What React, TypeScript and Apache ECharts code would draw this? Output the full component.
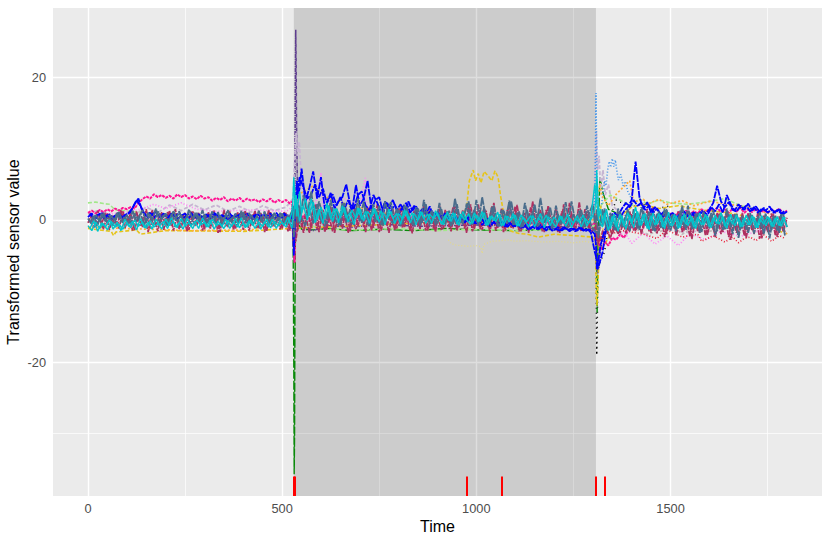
import React, { useEffect, useRef } from "react";
import * as echarts from "echarts";

const xLabels = [0, 500, 1000, 1500];
const yLabels = [-20, 0, 20];
const xMinor = [250, 750, 1250, 1750];
const yMinor = [-30, -10, 10];
const shadedSpan = [530, 1308];
const rugTimes = [530, 533, 975, 1066, 1308, 1330];

const time = [
  0,10,20,30,40,50,60,70,80,90,
  100,110,120,130,140,150,160,170,180,190,
  200,210,220,230,240,250,260,270,280,290,
  300,310,320,330,340,350,360,370,380,390,
  400,410,420,430,440,450,460,470,480,490,
  500,510,520,525,528,530,532,534,536,538,
  540,545,550,560,570,580,590,600,610,620,
  630,640,650,660,670,680,690,700,710,720,
  730,740,750,760,770,780,790,800,810,820,
  830,840,850,860,870,880,890,900,910,920,
  930,940,950,960,970,980,990,1000,1010,1020,
  1030,1040,1050,1060,1070,1080,1090,1100,1110,1120,
  1130,1140,1150,1160,1170,1180,1190,1200,1210,1220,
  1230,1240,1250,1260,1270,1280,1290,1300,1305,1308,
  1310,1312,1314,1316,1320,1325,1330,1340,1350,1360,
  1370,1380,1390,1400,1410,1420,1430,1440,1450,1460,
  1470,1480,1490,1500,1510,1520,1530,1540,1550,1560,
  1570,1580,1590,1600,1610,1620,1630,1640,1650,1660,
  1670,1680,1690,1700,1710,1720,1730,1740,1750,1760,
  1770,1780,1790,1800,
];

const timeOffset = [
  5,15,25,35,45,55,65,75,85,95,
  105,115,125,135,145,155,165,175,185,195,
  205,215,225,235,245,255,265,275,285,295,
  305,315,325,335,345,355,365,375,385,395,
  405,415,425,435,445,455,465,475,485,495,
  505,515,525,535,545,555,565,575,585,595,
  605,615,625,635,645,655,665,675,685,695,
  705,715,725,735,745,755,765,775,785,795,
  805,815,825,835,845,855,865,875,885,895,
  905,915,925,935,945,955,965,975,985,995,
  1005,1015,1025,1035,1045,1055,1065,1075,1085,1095,
  1105,1115,1125,1135,1145,1155,1165,1175,1185,1195,
  1205,1215,1225,1235,1245,1255,1265,1275,1285,1295,
  1305,1315,1325,1335,1345,1355,1365,1375,1385,1395,
  1405,1415,1425,1435,1445,1455,1465,1475,1485,1495,
  1505,1515,1525,1535,1545,1555,1565,1575,1585,1595,
  1605,1615,1625,1635,1645,1655,1665,1675,1685,1695,
  1705,1715,1725,1735,1745,1755,1765,1775,1785,1795,
];

const hotpink = [
  1.0,1.3,0.9,1.4,1.1,1.5,1.2,1.6,1.3,1.7,
  1.5,1.8,1.6,2.4,2.9,3.3,3.0,3.6,3.2,3.5,
  3.1,3.4,3.0,3.6,3.2,3.5,3.0,3.3,2.9,3.4,
  3.0,3.2,2.7,3.1,2.8,3.2,2.6,3.0,2.7,3.1,
  2.6,3.0,2.7,2.9,2.5,2.9,2.6,3.0,2.4,2.8,
  2.5,2.8,2.3,2.6,1.0,-3.0,-6.0,-1.0,1.5,1.0,
  0.6,1.0,0.3,0.8,-0.2,0.5,0.9,0.0,0.6,-0.3,
  0.8,0.2,0.7,-0.1,0.5,0.9,0.1,0.6,-0.2,0.4,
  0.7,0.0,0.5,-0.3,0.6,0.1,0.8,-0.2,0.4,0.0,
  0.5,-0.3,0.3,0.6,-0.2,0.4,-0.4,0.3,0.0,0.5,
  -0.3,0.2,-0.5,0.3,-0.2,0.4,-0.4,0.1,-0.6,0.2,
  -0.3,0.1,-0.6,0.0,-0.4,0.2,-0.7,-0.1,-0.5,0.1,
  -0.6,-0.2,-0.8,0.0,-0.5,-0.1,-0.7,-0.3,-0.9,-0.2,
  -0.6,-0.2,-0.9,-0.4,-0.8,-0.3,-1.0,-0.5,-0.5,-0.4,
  -0.5,-1.5,-2.5,-3.5,-3.9,-4.2,-3.0,-3.6,-2.5,-2.8,
  -2.0,-2.5,-1.5,-1.0,-1.2,-0.4,-0.9,0.0,-0.5,0.3,
  0.1,0.7,0.3,0.9,0.4,1.1,0.6,1.3,0.8,1.2,
  0.9,1.5,1.0,1.6,1.2,1.7,1.1,1.5,1.0,1.6,
  1.2,1.7,1.0,1.5,1.1,1.6,0.9,1.4,1.0,1.5,
  1.1,1.6,0.9,1.3,
];

const maroon = [
  -0.4,0.8,-1.0,0.4,-1.3,0.9,-0.8,0.5,-1.2,1.2,
  -0.7,1.0,-1.4,0.6,-1.0,1.5,-1.2,0.7,-1.6,1.1,
  -0.9,1.3,-1.5,0.5,-1.1,1.0,-1.4,1.2,-0.8,0.6,
  -1.3,1.1,-0.9,0.7,-1.7,1.4,-1.0,0.5,-1.2,0.9,
  -1.4,1.0,-0.7,1.3,-1.2,0.6,-1.6,1.1,-0.9,0.7,
  -1.2,1.0,-1.5,-0.5,-2.0,-4.0,-1.5,2.0,-1.0,1.5,
  -1.5,1.8,-1.0,0.8,-1.8,1.5,-1.3,1.2,-1.7,0.7,
  -1.6,1.4,-0.9,1.1,-1.8,0.6,-1.3,1.4,-1.0,1.8,
  -1.5,1.1,-1.7,1.5,-0.8,0.9,-1.4,1.6,-1.1,0.7,
  -1.6,1.3,-0.9,1.0,-1.5,1.6,-1.2,0.6,-1.4,1.4,
  -1.0,1.8,-1.5,0.8,-1.2,2.0,-1.6,0.9,-1.3,1.7,
  -1.0,1.9,-1.5,0.8,-1.7,1.4,-1.1,1.9,-1.6,0.7,
  -1.2,1.8,-0.9,1.0,-1.6,1.4,-1.3,0.6,-1.7,1.2,
  -1.3,2.4,-1.0,0.8,-1.6,1.5,-1.2,2.0,0.5,-1.0,
  -3.0,-1.5,-3.5,-2.0,-3.0,-1.5,-2.2,-0.8,-2.0,-0.5,
  -1.8,-0.3,-1.5,0.8,-1.6,0.5,-1.2,1.5,-1.8,-0.2,
  -1.5,0.8,-2.0,0.5,-1.2,1.2,-1.7,0.4,-2.3,0.9,
  -1.6,0.6,-2.2,0.3,-1.4,1.0,-2.0,0.5,-2.4,0.8,
  -1.8,0.4,-2.2,1.0,-1.5,0.2,-2.6,0.6,-1.7,0.9,
  -2.2,0.5,-1.6,0.3,
];

const maroon2 = [
  0.9,-1.1,1.3,-0.6,1.0,-1.4,0.6,-0.9,1.4,-1.2,
  0.5,-1.5,1.2,-0.8,0.8,-1.7,1.4,-1.0,0.9,-1.4,
  1.1,-0.8,1.5,-1.3,0.7,-1.6,1.2,-0.9,1.0,-1.5,
  0.8,-1.2,1.3,-1.8,0.6,-0.9,1.2,-1.4,1.1,-0.8,
  1.3,-1.5,0.8,-1.1,1.0,-1.7,1.4,-0.9,0.7,-1.3,
  1.1,-1.6,0.6,-3.0,1.0,-1.8,1.5,-1.2,2.2,-1.7,
  1.4,-1.4,1.9,-1.8,0.9,-1.2,1.6,-1.6,2.0,-0.9,
  1.2,-1.7,1.7,-1.1,2.2,-1.5,0.8,-1.8,1.5,-1.2,
  1.8,-1.0,1.2,-1.9,1.6,-1.3,2.0,-1.5,1.0,-1.7,
  2.0,-1.2,1.1,-1.6,1.9,-1.0,1.4,-1.8,2.2,-1.3,
  2.2,-1.4,1.3,-1.8,2.4,-1.1,1.6,-1.5,2.5,-1.2,
  2.1,-1.6,1.0,-1.8,2.6,-1.2,1.4,-1.7,2.0,-1.0,
  1.6,-1.8,2.2,-1.1,0.9,-1.6,2.5,-1.3,1.2,-1.8,
  -1.0,-2.5,-2.8,-1.2,-2.6,-0.6,-2.0,0.3,-1.8,1.2,
  -1.5,1.0,-2.0,0.6,-1.6,1.8,-1.9,0.9,-2.4,0.4,
  1.0,-2.2,0.6,-1.5,1.3,-2.7,0.5,-1.8,1.0,-2.1,
  0.5,-2.4,0.9,-1.7,1.1,-2.8,0.4,-1.9,1.0,-2.5,
  0.7,-2.0,1.1,-2.6,0.4,-1.7,0.9,-2.4,0.5,-1.9,
];

const blue = [
  0.4,0.9,0.2,0.8,0.3,0.7,0.1,0.6,0.9,0.2,
  0.7,1.1,2.2,3.0,1.2,0.6,1.0,0.3,0.9,0.4,
  0.8,0.2,0.7,0.1,0.6,0.9,0.3,0.8,0.2,0.6,
  0.1,0.7,0.3,0.9,0.2,0.6,0.0,0.5,0.8,0.2,
  0.6,0.9,0.3,0.7,0.1,0.8,0.4,0.9,0.2,0.7,
  0.3,0.8,0.2,0.5,-1.0,-5.0,-2.0,1.5,3.5,5.5,
  3.0,4.5,7.2,2.5,4.5,6.8,3.0,6.0,1.5,3.0,
  3.6,2.0,3.2,1.5,2.8,1.2,4.9,2.0,3.0,5.5,
  1.5,2.8,3.2,1.0,2.5,1.2,2.2,0.8,1.8,2.4,
  1.0,2.0,0.6,1.5,0.8,1.9,0.4,1.2,0.2,1.0,
  0.2,0.9,-0.2,0.6,-0.4,0.5,0.0,-0.5,0.4,-0.3,
  0.2,-0.6,0.0,-0.8,-0.2,-1.0,-0.4,-0.9,-0.2,-1.1,
  -0.5,-1.2,-0.7,-1.3,-0.9,-1.5,-0.8,-1.4,-1.0,-1.5,
  -1.1,-1.6,-1.2,-1.5,-1.1,-1.6,-1.3,-1.7,-2.0,-3.5,
  -6.8,-7.0,-6.0,-5.0,-3.5,-2.5,-1.5,-0.5,0.0,0.5,
  0.3,1.2,1.8,2.8,8.2,3.2,1.5,2.5,1.0,1.8,
  1.2,0.4,1.0,0.2,0.8,-0.1,0.6,0.9,0.2,1.1,
  0.6,1.3,0.8,1.5,2.4,4.8,2.6,1.8,2.5,1.4,
  1.2,2.0,1.4,2.3,1.3,1.9,1.1,1.7,1.0,1.5,
  1.0,1.5,0.8,1.2,
];

const blue2 = [
  0.9,0.2,0.7,1.0,0.1,0.8,0.3,0.9,0.2,0.7,
  1.0,1.7,2.8,2.0,0.9,0.3,0.8,1.1,0.4,0.9,
  0.3,0.9,0.5,1.0,0.2,0.7,1.0,0.3,0.8,0.4,
  0.8,0.2,1.0,0.4,0.7,0.2,0.9,0.3,0.6,0.9,
  0.3,0.8,0.1,0.9,0.4,0.7,0.2,0.6,1.0,0.3,
  0.9,0.4,0.6,2.5,6.0,4.5,3.0,3.6,5.0,3.2,
  4.4,2.4,3.8,1.6,2.6,3.2,5.0,2.2,1.6,3.5,
  4.0,2.0,1.4,3.5,2.4,1.0,2.6,1.6,2.8,1.4,
  2.2,1.0,2.6,1.3,1.9,0.6,1.6,0.9,1.3,0.5,
  0.9,0.2,0.7,-0.1,0.6,-0.2,0.5,-0.3,0.4,-0.5,
  0.1,-0.7,-0.1,-0.9,-0.3,-0.8,-0.1,-1.0,-0.3,-0.9,
  -0.6,-1.1,-0.8,-1.4,-1.0,-1.3,-0.7,-1.2,-0.9,-1.5,
  -1.3,-1.5,-1.0,-1.4,-1.2,-1.6,-1.1,-1.5,-1.2,-1.8,
  -4.5,-6.5,-4.5,-1.0,0.5,1.0,0.6,1.6,2.4,1.8,
  2.8,2.0,2.4,1.4,2.1,1.0,1.6,0.7,1.3,0.5,
  1.0,0.3,0.9,1.2,0.5,1.0,0.3,0.8,1.2,0.6,
  1.8,1.2,2.2,1.0,3.5,2.2,1.3,2.2,1.5,2.0,
  1.2,1.8,1.0,1.6,1.3,1.9,1.0,1.4,0.9,1.3,
];

const steel = [
  0.2,-0.6,0.8,-0.3,1.0,-0.5,0.6,-0.2,1.1,-0.4,
  0.7,-0.5,0.9,0.0,1.4,-0.3,0.8,-0.6,1.2,0.1,
  0.9,-0.4,1.3,-0.2,0.7,-0.6,1.5,0.0,1.0,-0.5,
  0.8,-0.2,1.2,-0.6,0.6,-0.1,1.4,-0.4,0.9,-0.3,
  1.1,-0.5,0.7,-0.2,1.3,-0.4,0.8,-0.6,1.0,-0.1,
  0.9,-0.4,0.6,1.2,2.0,-2.5,-1.0,3.0,0.5,2.5,
  -0.4,2.0,0.3,-0.8,1.8,-0.5,2.2,0.0,-0.9,2.0,
  -0.3,1.6,-0.8,2.4,0.2,-0.6,1.7,-0.2,2.6,-0.7,
  1.5,-0.3,2.0,-0.8,1.2,2.5,-0.5,1.4,-0.6,1.9,
  0.0,-0.8,1.6,-0.4,2.2,-0.9,1.0,-0.5,1.5,-0.7,
  1.3,-0.6,2.2,-0.4,1.0,2.6,-0.7,2.8,-0.3,1.6,
  -0.8,1.8,0.0,-0.9,1.4,-0.5,2.6,-0.7,1.2,-1.0,
  1.5,-0.6,2.2,-0.9,1.0,-0.4,1.8,-1.0,0.8,-0.6,
  2.5,-0.9,0.8,-0.5,1.4,-1.0,0.9,2.2,-0.5,0.5,
  1.5,-1.0,-2.5,-1.8,0.5,-0.8,1.6,-1.2,0.8,-1.5,
  1.2,-1.0,1.5,-0.6,1.0,-1.4,1.3,-1.0,0.9,-1.6,
  1.2,-1.2,1.5,-1.5,0.8,-1.0,2.0,-1.4,1.0,-1.2,
  1.0,-1.7,0.8,-1.2,1.4,-1.6,1.0,-1.3,0.8,-2.0,
  0.9,-1.4,-0.2,-1.8,0.7,-1.0,1.1,-2.0,0.5,-1.4,
  0.6,-1.8,0.8,-1.0,
];

const steel2 = [
  -0.4,0.6,-0.7,0.9,-0.2,0.7,-0.8,1.1,-0.3,0.5,
  -0.6,1.3,-0.2,0.9,-0.7,1.0,-0.1,1.6,-0.5,0.7,
  -0.8,0.8,-0.1,1.2,-0.5,0.6,-0.7,1.0,-0.2,1.4,
  -0.6,0.7,-0.3,1.1,-0.8,0.9,-0.2,0.6,-0.7,1.3,
  -0.3,1.0,-0.6,0.5,-0.1,1.2,-0.7,0.8,-0.4,1.0,
  -0.6,0.7,-0.2,2.4,-0.5,3.5,0.8,4.0,-0.3,2.6,
  0.5,-0.6,2.8,0.2,-0.8,2.4,-0.4,1.5,-0.7,3.0,
  -0.4,1.8,-0.9,2.2,0.0,-0.7,2.6,0.3,-0.5,1.6,
  -0.9,2.1,0.2,-0.6,1.8,-0.8,2.8,-0.2,1.3,-0.7,
  2.4,-0.4,1.2,-0.9,3.0,0.1,-0.6,2.3,-0.3,1.5,
  -0.8,3.2,0.2,-0.5,2.0,-0.9,1.4,-0.2,2.7,-0.7,
  1.0,-1.1,2.4,-0.3,1.2,-0.9,3.1,-0.4,1.0,-1.2,
  2.0,-0.6,1.0,-1.1,2.6,-0.3,1.3,-1.0,2.0,-0.8,
  -1.5,-2.0,1.5,-1.5,1.0,-1.4,1.6,-1.0,0.7,-1.6,
  1.5,-1.2,1.8,-0.8,1.2,-1.5,0.9,-1.1,1.6,-1.3,
  0.8,-1.6,1.3,-1.0,2.0,-1.3,0.9,-1.8,1.2,-0.9,
  1.0,-2.2,0.7,-1.4,1.6,-1.1,0.8,-2.5,0.6,-1.3,
  1.0,-1.9,0.5,-1.2,0.9,-2.6,0.6,-1.5,0.8,-2.3,
];

const teal = [
  -0.8,-1.5,-0.3,-1.2,-0.5,-1.4,-0.2,-1.0,-0.6,-1.3,
  -0.4,-1.1,0.0,-0.9,-0.3,-1.2,-0.1,-1.0,-0.5,-1.3,
  0.1,-0.8,-0.2,-1.1,0.2,-0.9,-0.4,-1.2,0.0,-0.7,
  -0.3,-1.0,0.1,-0.8,-0.5,-1.2,-0.1,-0.9,0.2,-1.1,
  -0.4,-1.0,0.0,-1.2,-0.3,-0.9,0.1,-1.1,-0.2,-0.8,
  -0.4,-1.0,0.2,1.0,3.0,6.0,4.0,1.5,3.5,0.5,
  2.0,4.0,1.0,3.0,0.6,2.5,0.0,1.8,0.2,2.0,
  -0.2,1.6,0.3,1.8,-0.3,1.4,0.2,1.6,-0.2,1.2,
  0.4,1.5,-0.3,1.0,0.2,1.2,-0.5,0.9,0.1,1.3,
  -0.4,0.9,0.0,1.1,-0.5,0.8,0.2,1.0,-0.6,0.7,
  -0.1,1.0,-0.6,0.8,0.0,0.9,-0.5,0.7,-0.2,1.0,
  -0.7,0.6,-0.2,0.8,-0.8,0.5,0.0,0.7,-0.9,0.4,
  -0.2,0.6,-1.0,0.3,-0.4,0.7,-0.8,0.4,-0.3,0.5,
  -0.9,0.3,-0.5,0.6,-1.0,0.2,-0.4,0.6,1.5,3.0,
  7.0,4.5,2.0,0.5,1.5,-0.5,1.0,-1.5,0.5,-1.0,
  0.8,-0.9,1.0,-0.5,1.8,-0.8,0.8,-1.2,0.6,-0.7,
  0.9,-1.0,0.4,-0.8,0.8,-1.2,0.5,-0.6,0.7,-1.0,
  0.4,-0.7,0.8,-1.0,0.3,-0.5,1.0,-0.9,0.4,-0.6,
  0.7,-1.0,0.3,-0.7,0.6,-1.1,0.2,-0.6,0.5,-0.9,
  0.3,-0.8,0.4,-1.0,
];

const teal2 = [
  -1.2,-0.1,-1.6,-0.4,-1.0,0.0,-1.3,-0.3,-1.5,0.1,
  -0.9,-0.2,-1.4,0.2,-1.1,-0.3,-1.3,0.1,-0.8,-0.2,
  -1.2,0.3,-1.0,-0.4,-1.3,0.2,-0.9,-0.2,-1.2,0.3,
  -1.0,0.0,-1.3,-0.2,-0.9,0.1,-1.2,-0.3,-1.0,0.3,
  -1.1,-0.1,-0.8,0.2,-1.3,-0.2,-1.0,0.1,-1.2,0.0,
  -0.8,0.4,-1.2,3.5,-0.2,2.0,0.0,3.0,-0.4,1.5,
  -0.5,2.4,0.1,1.6,-0.4,2.0,0.3,1.0,-0.6,1.7,
  0.1,1.2,-0.5,1.7,0.0,1.3,-0.7,1.5,0.2,0.9,
  -0.6,1.4,0.0,1.0,-0.7,1.2,0.2,0.8,-0.5,1.3,
  0.1,-0.7,1.1,-0.2,0.9,-0.8,1.2,0.0,-0.6,1.0,
  -0.3,1.2,-0.8,0.5,-0.1,1.1,-0.9,0.6,-0.3,0.9,
  -0.9,0.7,-0.1,-1.0,0.6,-0.4,0.9,-1.1,0.4,-0.2,
  -1.0,0.6,-0.5,0.8,-1.1,0.2,-0.3,0.7,-0.9,0.4,
  5.0,0.0,-1.0,1.5,-1.2,0.8,-1.6,0.6,-1.3,0.7,
  -1.1,1.2,-0.8,0.9,-1.4,1.0,-0.6,0.7,-1.2,1.1,
  -0.9,0.6,-1.1,0.9,-0.8,0.4,-1.2,1.0,-0.7,0.6,
  -1.1,0.7,-0.6,0.5,-1.2,0.8,-0.8,0.3,-1.0,0.7,
  -0.7,0.4,-1.1,0.6,-0.8,0.3,-1.0,0.5,-0.9,0.4,
];

const purpleTime = [520,528,531,533,534,535,536,537,539,542,548,560,580,620,680,760,860,1000,1150,1290,1305,1309,1311,1313,1316,1320,1325,1335,1350,1380];
const purple = [-0.5,-1,-6,8,19,26.7,22,14,6,2,0.5,-1.2,-1.5,-0.8,-1,-0.6,-0.9,-0.7,-1,-0.9,-1.5,-3,-6.5,-7.5,-6,-4,-2.5,-1.5,-1,-0.5];

const greenTime = [520,528,530,531,532,533,534,536,540,550,580,620,680,760,840,920,1000,1100,1200,1300,1308,1310,1311,1312,1314,1318,1325,1340,1360];
const green = [0.5,-0.5,-20,-35.7,-30,-12,-3,0,-0.5,-1.3,-1.4,-1.2,-1.5,-1.3,-1.5,-1.2,-1.4,-1.5,-1.3,-1.2,0,-5,-13,-9,-2,6,4,1.5,1];

const blackTime = [1300,1306,1308,1309,1310,1311,1312,1313,1315,1318,1322,1330,1345,1360,1375,1395,1430,1460,1500];
const black = [-0.5,-1,-4,-12,-19,-16,-12,-8,-6.5,-6,-5.5,-4.5,0.5,2.8,2.4,1.8,2.2,1.5,2.0];

const lavenderTime = [0,30,60,90,120,150,180,210,240,270,300,330,360,390,420,450,480,510,528,532,536,540,544,550,560,580,620,700,800,900,1000,1100,1200,1300,1307,1309,1312,1316,1320,1326,1332,1340,1350,1370,1400,1450,1500,1550,1600];
const lavender = [0.8,1.4,0.5,1.2,0.7,1.8,1.0,2.1,1.3,2.2,1.4,2.1,1.2,1.9,1.1,2.0,1.3,1.8,3,8,12.2,9,11,5,2,1,0.5,0.2,0.5,0,0.3,-0.2,0,0.3,8,12.5,7,9,4,7,3.5,5,2,1,0,-0.5,-1.4,-1.8,-1];

const yellowTime = [0,60,66,72,125,135,200,400,520,960,975,982,992,998,1005,1012,1020,1030,1040,1048,1056,1062,1070,1078,1090,1110,1130,1160,1200,1250,1300,1307,1309,1311,1313,1316,1320,1330,1345,1370,1400,1430,1470,1520,1580,1650,1720,1790];
const yellow = [-1.2,-1.6,-2.2,-1.7,-1.4,-2,-1.5,-1.6,-1.2,-0.2,1.8,5.5,7,5.5,6.5,5.2,6.8,6.2,5.5,6.9,6,3.5,1,-0.8,-1.6,-1.9,-2.0,-2.4,-2.0,-2.2,-2.4,-3,-11,-12,-9,-5,2,-3.5,-2,0.5,1.8,2.2,1.6,2,1.4,1,0.2,-1.8];

const paleYellowTime = [928,935,945,960,980,1000,1012,1015,1020,1040,1065,1080,1100,1130,1170,1210,1250,1280,1300,1308];
const paleYellow = [-2.8,-3.3,-3.5,-3.6,-3.7,-3.6,-3.8,-4.7,-3.4,-3,-2.9,-2.8,-3,-2.9,-3.1,-3,-3.2,-3,-3.2,-3.1];

const skyTime = [1300,1305,1307,1308,1309,1310,1312,1316,1322,1326,1330,1334,1338,1342,1346,1350,1354,1358,1362,1366,1372,1378,1384,1390,1396,1402];
const sky = [0,3,10,17.8,13,7,3,1.5,2,3.5,5.5,4.8,7,8.2,7.4,8.6,7.5,8.4,6.8,5.6,6.4,4.8,5.4,4,3.4,2.5];

const violetTime = [0,80,130,170,200,240,280,330,420,510,560,585,600,604,620,660,700,714,718,740,800,900,1000,1100,1200,1300,1330,1360,1380,1400,1430,1460,1490,1520,1550,1590,1630,1680,1730,1790];
const violet = [0.5,1,1.4,2.2,1.6,2.4,1.5,1.2,1.4,1.2,3,2,6.6,2,2.5,3,2,5.9,2,1,0.5,0,0.2,-0.4,-0.6,-0.5,-1.5,-2.8,-1.6,-3.3,-1.8,-3.4,-2.2,-3.6,-1.9,-2.8,-1.6,-2.3,-1.5,-1.2];

const redTime = [1340,1380,1430,1465,1490,1530,1570,1580,1610,1640,1660,1675,1690,1705,1720,1740,1760,1780,1795];
const red = [-2,-1.5,-2,-2.6,-1.4,-2.4,-2,-3.0,-2.2,-3.1,-2.4,-3.2,-2.6,-2.4,-2.9,-2.1,-3.0,-2.2,-2.6];

const orangeTime = [0,100,260,420,530,540,580,620,680,800,1000,1200,1307,1312,1318,1322,1340,1360,1395,1405,1430,1440,1470,1490,1530,1560,1600,1650,1700,1760,1800];
const orange = [-1,-1.2,-1.5,-1.4,0,3.5,4.8,3,2,0.5,0,0.2,0,3,5,3.5,2,3.6,5.5,2.5,2.9,2.2,2.9,2.2,2.7,2,2.6,2.2,1.8,0.8,-2];

const limeTime = [0,20,40,55,70,150,300,540,600,700,800,900,1000,1100,1200,1300,1320,1345,1380,1400,1420,1440,1470,1500,1540,1590,1640,1680,1720];
const lime = [2.4,2.5,2.3,2.2,1.4,1,0.5,0,-1.3,-1.4,-1.2,-1.5,-1.3,-1.5,-1.4,-1.2,2,3.5,2.5,2,3,2.2,2.8,2.4,2.2,2.5,3,2,1.5];

const greyTime = [1330,1345,1360,1380,1400,1440,1480,1510,1530,1560,1600,1650,1700,1760,1800];
const grey = [-1,-2,-1,-2.5,-1,-2,-1.5,-1,-2,-1,-1.6,-0.8,-1.2,-0.8,-1.2];

const lines = [
  { name: "black", time: blackTime, values: black, color: "#000000", dash: [1, 4], width: 1.5 },
  { name: "green", time: greenTime, values: green, color: "#0a8a0a", dash: [9, 2], width: 1.4 },
  { name: "purple", time: purpleTime, values: purple, color: "#5e3c8f", dash: [4, 1, 1, 1], width: 1.5 },
  { name: "lavender", time: lavenderTime, values: lavender, color: "#c6b5d2", dash: [4, 2], width: 1.8 },
  { name: "grey", time: greyTime, values: grey, color: "#c0bcbc", dash: [3, 2], width: 1.8 },
  { name: "lime", time: limeTime, values: lime, color: "#a2e88a", dash: [4, 2], width: 1.6 },
  { name: "sky", time: skyTime, values: sky, color: "#3f93ea", dash: [1, 2], width: 1.6 },
  { name: "yellow", time: yellowTime, values: yellow, color: "#e6c41a", dash: [4, 2], width: 1.6 },
  { name: "paleYellow", time: paleYellowTime, values: paleYellow, color: "#e3d88a", dash: [1, 2], width: 1.3 },
  { name: "orange", time: orangeTime, values: orange, color: "#ffac3a", dash: [2, 2], width: 1.7 },
  { name: "violet", time: violetTime, values: violet, color: "#ff85f5", dash: [1, 2], width: 1.8 },
  { name: "red", time: redTime, values: red, color: "#e8203a", dash: [1, 2], width: 1.6 },
  { name: "hotpink", time, values: hotpink, color: "#ff1493", dash: [3, 1], width: 2 },
  { name: "maroon", time, values: maroon, color: "#b03060", dash: [5, 1], width: 1.7 },
  { name: "maroon2", time: timeOffset, values: maroon2, color: "#b03060", dash: [5, 1], width: 1.7 },
  { name: "blue", time, values: blue, color: "#0000ff", dash: [7, 1], width: 1.8 },
  { name: "blue2", time: timeOffset, values: blue2, color: "#0000ff", dash: [7, 1], width: 1.8 },
  { name: "steel", time, values: steel, color: "#4a6d8c", dash: [8, 1], width: 1.8 },
  { name: "steel2", time: timeOffset, values: steel2, color: "#4a6d8c", dash: [8, 1], width: 1.8 },
  { name: "teal", time, values: teal, color: "#00c5cd", dash: "solid", width: 1.4 },
  { name: "teal2", time: timeOffset, values: teal2, color: "#00c5cd", dash: "solid", width: 1.4 },
];

const pairs = (xs: number[], ys: number[]) => xs.map((x, i) => [x, ys[i]]);

function gridSeries(z: number, width: number, xs: number[], ys: number[]) {
  return {
    type: "line",
    data: [],
    silent: true,
    markLine: {
      z,
      silent: true,
      symbol: "none",
      label: { show: false },
      lineStyle: { color: "#ffffff", width, type: "solid" },
      data: [...xs.map((v) => ({ xAxis: v })), ...ys.map((v) => ({ yAxis: v }))],
    },
  };
}

export default function App() {
  const ref = useRef<HTMLDivElement>(null);
  useEffect(() => {
    const chart = echarts.init(ref.current!, null, { renderer: "svg" });
    chart.setOption({
      animation: false,
      backgroundColor: "#ffffff",
      grid: {
        left: 53,
        right: 8,
        top: 8,
        bottom: 49,
        show: true,
        backgroundColor: "#ebebeb",
        borderWidth: 0,
        outerBoundsMode: "none",
      },
      xAxis: {
        type: "value",
        min: -90,
        max: 1890,
        name: "Time",
        nameLocation: "middle",
        nameGap: 22,
        nameMoveOverlap: false,
        nameTextStyle: { color: "#000000", fontSize: 16, fontFamily: "Liberation Sans" },
        splitLine: { show: false },
        axisLine: { show: false },
        axisTick: { show: true, length: 3.6, customValues: xLabels, lineStyle: { color: "#333333", width: 1 } },
        axisLabel: { customValues: xLabels, formatter: (v: number) => String(v), color: "#4d4d4d", fontSize: 12.8, margin: 6, fontFamily: "Liberation Sans" },
      },
      yAxis: {
        type: "value",
        min: -38.75,
        max: 29.75,
        name: "Transformed sensor value",
        nameLocation: "middle",
        nameGap: 32,
        nameMoveOverlap: false,
        nameTextStyle: { color: "#000000", fontSize: 16, fontFamily: "Liberation Sans" },
        splitLine: { show: false },
        axisLine: { show: false },
        axisTick: { show: true, length: 3.6, customValues: yLabels, lineStyle: { color: "#333333", width: 1 } },
        axisLabel: { customValues: yLabels, formatter: (v: number) => String(v), color: "#4d4d4d", fontSize: 12.8, margin: 7, fontFamily: "Liberation Sans" },
      },
      series: [
        gridSeries(1, 0.7, xMinor, yMinor),
        gridSeries(1, 1.4, xLabels, yLabels),
        {
          type: "line",
          data: [],
          silent: true,
          markArea: {
            z: 2,
            silent: true,
            itemStyle: { color: "rgba(0,0,0,0.13)" },
            data: [[{ xAxis: shadedSpan[0] }, { xAxis: shadedSpan[1] }]],
          },
        },
        ...lines.map((l, i) => ({
          type: "line",
          name: l.name,
          z: 3 + i * 0.01,
          data: pairs(l.time, l.values),
          showSymbol: false,
          symbol: "none",
          silent: true,
          lineStyle: { color: l.color, width: l.width, type: l.dash },
        })),
        {
          type: "line",
          data: [],
          silent: true,
          markLine: {
            z: 6,
            silent: true,
            symbol: "none",
            label: { show: false },
            lineStyle: { color: "#ff0000", width: 2, type: "solid" },
            data: rugTimes.map((t) => [{ coord: [t, -38.75] }, { coord: [t, -36] }]),
          },
        },
      ],
    });
    return () => chart.dispose();
  }, []);
  return <div ref={ref} style={{ position: "fixed", left: 0, top: 0, width: 830, height: 545 }} />;
}
